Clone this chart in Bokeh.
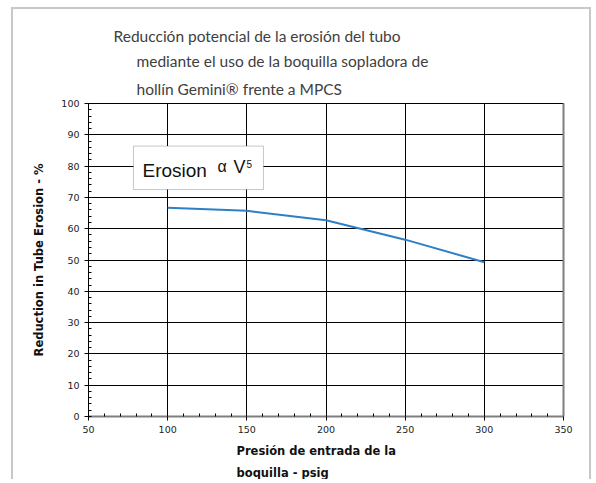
from bokeh.plotting import figure
from bokeh.models import (Range1d, FixedTicker, Label, BoxAnnotation, LinearAxis, Title)
from bokeh.embed import file_html
from bokeh.resources import INLINE

# ---- data ----
pressure = [100, 150, 200, 250, 300]
reduction = [66.7, 65.7, 62.7, 56.5, 49.3]
x_ticks = [50, 100, 150, 200, 250, 300, 350]
y_ticks = [0, 10, 20, 30, 40, 50, 60, 70, 80, 90, 100]
x_minor = list(range(50, 351, 10))
y_minor = list(range(0, 101, 2))
title_lines = ["Reducción potencial de la erosión del tubo",
               "mediante el uso de la boquilla sopladora de",
               "hollín Gemini® frente a MPCS"]
xlabel_lines = ["Presión de entrada de la", "boquilla - psig"]
ylabel = "Reduction in Tube Erosion - %"

W, H = 580, 472
p = figure(width=W, height=H, output_backend="svg", toolbar_location=None,
           x_range=Range1d(50, 350), y_range=Range1d(0, 100),
           min_border_left=75, min_border_right=30, min_border_top=94,
           min_border_bottom=65)
p.title.visible = False
p.styles = {"border-top": "2px solid #c8c8c8", "border-left": "2px solid #c8c8c8",
            "border-right": "2px solid #c8c8c8", "margin-left": "11px",
            "margin-top": "7px"}
p.background_fill_color = "white"
p.border_fill_color = "white"
p.outline_line_color = "black"
p.outline_line_width = 1

for ax, ticks, minor in ((p.xaxis[0], x_ticks, x_minor), (p.yaxis[0], y_ticks, y_minor)):
    ax.ticker = FixedTicker(ticks=ticks, minor_ticks=minor)
    ax.major_label_text_font = "DejaVu Sans"
    ax.major_label_text_font_size = "9.5px"
    ax.major_label_text_color = "#222222"
    ax.major_tick_in = 0
    ax.major_tick_out = 4
    ax.minor_tick_in = 3
    ax.minor_tick_out = 0
    ax.major_tick_line_color = "black"
    ax.minor_tick_line_color = "black"
    ax.major_label_standoff = 5

p.yaxis.axis_line_color = "black"
p.yaxis.axis_label = ylabel
p.yaxis.axis_label_text_font = "DejaVu Sans"
p.yaxis.axis_label_text_font_style = "bold"
p.yaxis.axis_label_text_font_size = "11.5px"
p.yaxis.axis_label_text_color = "#111111"
p.yaxis.axis_label_standoff = 12
p.xaxis.axis_line_color = "#7f7f7f"
p.xaxis.axis_line_width = 2

right = LinearAxis(ticker=FixedTicker(ticks=[]), major_label_text_font_size="0px",
                   axis_line_color="#7f7f7f", axis_line_width=2,
                   major_tick_line_color=None, minor_tick_line_color=None)
p.add_layout(right, "right")

p.xgrid.grid_line_color = "black"
p.ygrid.grid_line_color = "black"

p.line(pressure, reduction, line_color="#2d7fc6", line_width=2)

# Erosion box
p.add_layout(BoxAnnotation(left=78.4, right=160.5, bottom=72.5, top=86.4,
                           fill_color="white", fill_alpha=1,
                           line_color="#444444", line_width=1))
p.add_layout(Label(x=84.1, y=78.7, text="Erosion", text_font="Liberation Sans",
                   text_font_size="19px", text_color="#111111", text_baseline="alphabetic"))
p.add_layout(Label(x=131.5, y=79.8, text="α", text_font="Liberation Sans",
                   text_font_size="16px", text_color="#111111", text_baseline="alphabetic"))
p.add_layout(Label(x=141.6, y=79.8, text="V", text_font="Liberation Sans",
                   text_font_size="18px", text_color="#111111", text_baseline="alphabetic"))
p.add_layout(Label(x=149.8, y=81.8, text="5", text_font="Liberation Sans",
                   text_font_size="10px", text_color="#111111", text_baseline="top"))

# Title lines (added innermost first)
for txt, off, so in zip(title_lines[::-1], [48, 48, 25], [11, 5, 5]):
    p.add_layout(Title(text=txt, text_font="Lato", text_font_size="15.5px",
                       text_font_style="normal", text_color="#404040",
                       align="left", offset=off, standoff=so), "above")

# x label lines (below, left aligned)
for txt, so in zip(xlabel_lines, [12, 0]):
    p.add_layout(Title(text=txt, text_font="DejaVu Sans", text_font_size="11.5px",
                       text_font_style="bold", text_color="#111111",
                       align="left", offset=148, standoff=so), "below")

open("out.html", "w").write(file_html(p, INLINE))
